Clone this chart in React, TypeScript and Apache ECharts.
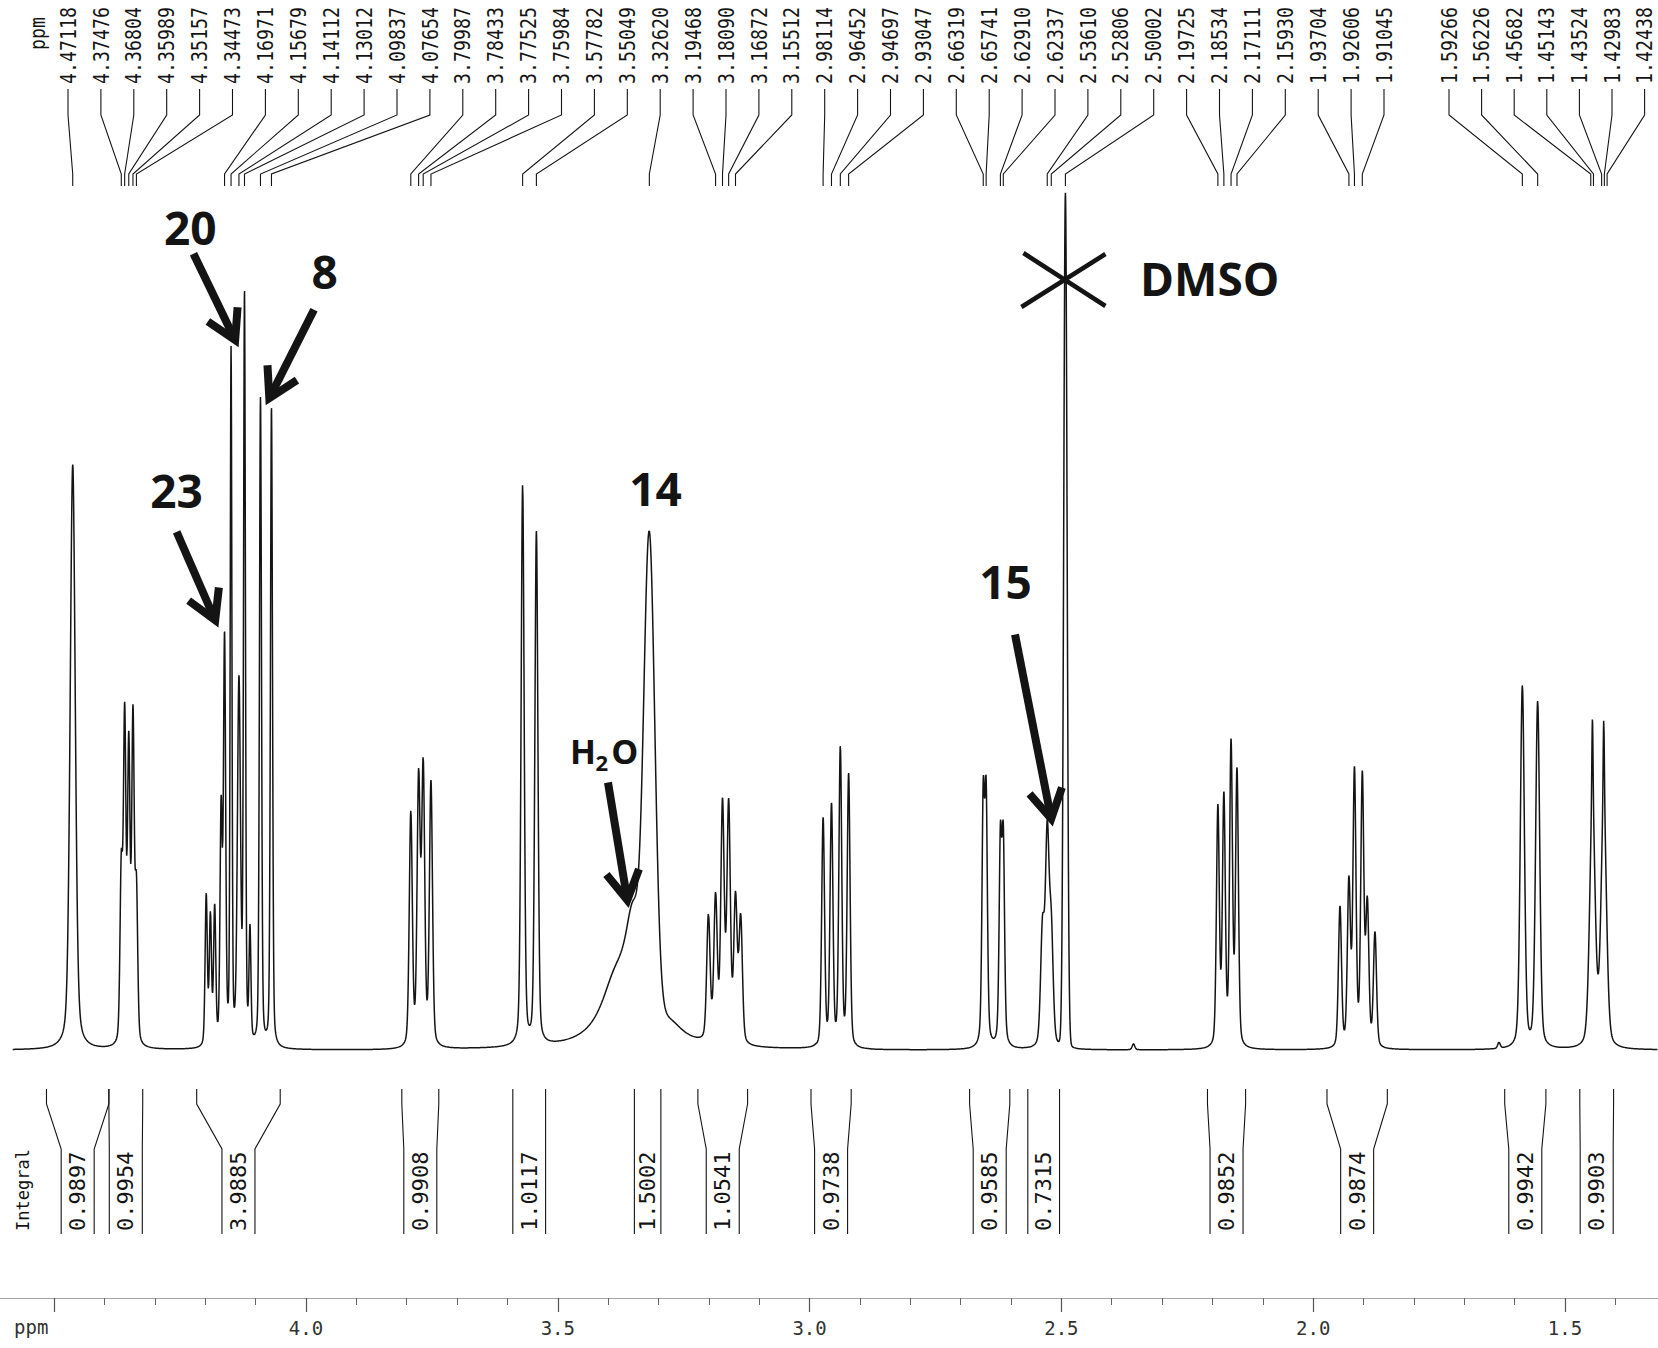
import React, { useEffect, useRef } from "react";
import * as echarts from "echarts";

// ---------------- data ----------------
// peak lists: [ppm, height, half-width at half-height (ppm), lorentzian fraction]
const singlet447 = [[4.47118, 585, 0.006, 0.35]];
const multiplet436 = [
  [4.37476, 170, 0.003, 0.3], [4.36804, 320, 0.003, 0.3], [4.35989, 290, 0.003, 0.3],
  [4.35157, 320, 0.003, 0.3], [4.34473, 150, 0.003, 0.3],
];
const multiplet413 = [
  [4.2061, 150, 0.0026, 0.3], [4.1978, 128, 0.0026, 0.3], [4.1893, 135, 0.0026, 0.3],
  [4.1765, 230, 0.0026, 0.3], [4.16971, 400, 0.0026, 0.3], [4.15679, 690, 0.002, 0.3],
  [4.14112, 360, 0.0036, 0.3], [4.13012, 745, 0.0022, 0.3], [4.1192, 110, 0.0022, 0.3],
  [4.09837, 648, 0.0024, 0.3], [4.07654, 640, 0.0024, 0.3],
];
const multiplet378 = [
  [3.79987, 233, 0.0036, 0.3], [3.78433, 263, 0.0036, 0.3],
  [3.77525, 274, 0.0036, 0.3], [3.75984, 263, 0.0036, 0.3],
];
const doublet356 = [[3.57782, 560, 0.0036, 0.3], [3.55049, 512, 0.0036, 0.3]];
const peak14Water = [
  [3.3262, 470, 0.0129, 0.05], [3.3586, 110, 0.0199, 1], [3.3944, 55, 0.0357, 1], [3.2853, 16, 0.034, 1],
];
const multiplet318 = [
  [3.2089, 124, 0.004, 0.3], [3.19468, 142, 0.004, 0.3], [3.1809, 235, 0.004, 0.3],
  [3.16872, 235, 0.004, 0.3], [3.15512, 142, 0.004, 0.3], [3.1448, 124, 0.004, 0.3],
];
const multiplet295 = [
  [2.98114, 228, 0.0034, 0.3], [2.96452, 240, 0.0034, 0.3],
  [2.94697, 298, 0.0034, 0.3], [2.93047, 272, 0.0034, 0.3],
];
const multiplet264 = [
  [2.66319, 239, 0.003, 0.4], [2.65741, 239, 0.003, 0.4],
  [2.6291, 199, 0.003, 0.4], [2.62337, 199, 0.003, 0.4],
];
const multiplet253 = [[2.5455, 115, 0.0044, 0.3], [2.5361, 205, 0.0044, 0.3], [2.52806, 110, 0.0044, 0.3]];
const dmsoPeak = [[2.50002, 855, 0.004, 0.03]];
const multiplet218 = [
  [2.19725, 238, 0.0034, 0.3], [2.18534, 247, 0.0034, 0.3],
  [2.17111, 300, 0.0034, 0.3], [2.1593, 274, 0.0034, 0.3],
];
const multiplet192 = [
  [1.9548, 140, 0.0036, 0.3], [1.93704, 163, 0.0036, 0.3], [1.92606, 273, 0.0036, 0.3],
  [1.91045, 268, 0.0036, 0.3], [1.9005, 140, 0.0036, 0.3], [1.8853, 114, 0.0036, 0.3],
];
const doublet158 = [[1.59266, 362, 0.0048, 0.3], [1.56226, 346, 0.0048, 0.3]];
const multiplet144 = [
  [1.4535, 240, 0.0064, 0.3], [1.4535, 85, 0.0014, 0.3],
  [1.431, 240, 0.0064, 0.3], [1.431, 85, 0.0014, 0.3],
];
const baselineBumps = [[2.3648, 6, 0.003, 0.3], [1.6391, 6, 0.003, 0.3]];

// peak-picking labels printed on top
const peakLabelPpm = [
  4.47118, 4.37476, 4.36804, 4.35989, 4.35157, 4.34473, 4.16971, 4.15679, 4.14112, 4.13012,
  4.09837, 4.07654, 3.79987, 3.78433, 3.77525, 3.75984, 3.57782, 3.55049, 3.3262, 3.19468,
  3.1809, 3.16872, 3.15512, 2.98114, 2.96452, 2.94697, 2.93047, 2.66319, 2.65741, 2.6291,
  2.62337, 2.5361, 2.52806, 2.50002, 2.19725, 2.18534, 2.17111, 2.1593, 1.93704, 1.92606,
  1.91045, 1.59266, 1.56226, 1.45682, 1.45143, 1.43524, 1.42983, 1.42438,
];

// integral regions
const integralStart = [4.5233, 4.3994, 4.225, 3.8177, 3.5973, 3.3559, 3.2298, 3.0052, 2.6903, 2.5747, 2.2179, 1.9806, 1.6277, 1.4786];
const integralEnd = [4.3994, 4.3322, 4.0592, 3.7443, 3.5322, 3.3033, 3.1311, 2.9254, 2.6104, 2.5117, 2.1422, 1.8608, 1.5459, 1.4115];
const integralValues = [0.9897, 0.9954, 3.9885, 0.9908, 1.0117, 1.5002, 1.0541, 0.9738, 0.9585, 0.7315, 0.9852, 0.9874, 0.9942, 0.9903];

// ruler ticks
const rulerLabels = [4.0, 3.5, 3.0, 2.5, 2.0, 1.5];
const rulerMajorTicks = [4.5, 4.0, 3.5, 3.0, 2.5, 2.0, 1.5];
const rulerMinorTicks = [
  4.4, 4.3, 4.2, 4.1, 3.9, 3.8, 3.7, 3.6, 3.4, 3.3, 3.2, 3.1, 2.9, 2.8, 2.7, 2.6,
  2.4, 2.3, 2.2, 2.1, 1.9, 1.8, 1.7, 1.6, 1.4,
];

// hand annotations (data coordinates: ppm, intensity)
const annotationTexts = ["20", "8", "23", "14", "15", "DMSO"];
const annotationTextAt = [[4.2377, 822.7], [3.971, 779.3], [4.2649, 560.4], [3.3138, 562.5], [2.6188, 469.5], [2.2135, 772]];
const arrowTails = [[4.2314, 796.2], [3.9921, 740.2], [4.2649, 518.1], [3.4083, 267.5], [2.6001, 415.5]];
const arrowTips = [[4.1452, 706.3], [4.0844, 648.2], [4.1851, 426.1], [3.3686, 146], [2.5266, 227.3]];
const waterLabelAt = [3.4125, 299];
const solventCrossAt = [2.5, 770];

// ---------------- layout / style ----------------
const W = 1658;
const H = 1348;
const SPEC_MIN = 1.3233;
const SPEC_MAX = 4.6156;
const SPEC_START = 4.5904;
const RULER_MIN = 1.3153;
const RULER_MAX = 4.6076;
const INK = "#141414";
const MONO = '"DejaVu Sans Mono", "Liberation Mono", monospace';
const BOLD = '"Open Sans", "Noto Sans", "DejaVu Sans", sans-serif';

const LABEL_X0 = 68;
const LABEL_STEP = 32.9;
const LABEL_BLOCK2 = 41;
const LABEL_X0_BLOCK2 = 1449;
const LABEL_STEP_BLOCK2 = 32.6;
const LABEL_FONT = 22;
const LABEL_SQUEEZE = 0.83;
const LABEL_TEXT_BOTTOM = 84;
const LEADER_TOP = 89;
const LEADER_BEND1 = 115;
const LEADER_BEND2 = 174;
const LEADER_BOTTOM = 186;

const INT_TOP = 1089;
const INT_BEND1 = 1104;
const INT_BEND2 = 1149;
const INT_BOTTOM = 1234;
const INT_MIN_W = 33;

function labelX(i: number) {
  return i < LABEL_BLOCK2
    ? LABEL_X0 + LABEL_STEP * i
    : LABEL_X0_BLOCK2 + LABEL_STEP_BLOCK2 * (i - LABEL_BLOCK2);
}

function shape(d: number, w: number, eta: number) {
  const r = (d / w) * (d / w);
  return (1 - eta) * Math.exp(-Math.LN2 * r) + eta / (1 + r);
}

function buildSpectrum() {
  const peaks = [
    ...singlet447, ...multiplet436, ...multiplet413, ...multiplet378, ...doublet356, ...peak14Water,
    ...multiplet318, ...multiplet295, ...multiplet264, ...multiplet253, ...dmsoPeak, ...multiplet218,
    ...multiplet192, ...doublet158, ...multiplet144, ...baselineBumps,
  ];
  const out: number[][] = [];
  const step = 0.0004;
  for (let p = SPEC_START; p >= SPEC_MIN; p -= step) {
    let v = 0;
    for (const [c, h, w, eta] of peaks) {
      const d = p - c;
      if (Math.abs(d) < 0.4) v += h * shape(d, w, eta);
    }
    out.push([p, v]);
  }
  return out;
}

function arrowChildren(t: number[], h: number[]) {
  const dx = t[0] - h[0];
  const dy = t[1] - h[1];
  const len = Math.hypot(dx, dy);
  const ux = dx / len;
  const uy = dy / len;
  const L = 33;
  const a = Math.PI / 6;
  const tip = [h[0] + ux * 4, h[1] + uy * 4];
  const arm = (ang: number) => [
    tip[0] + L * (ux * Math.cos(ang) - uy * Math.sin(ang)),
    tip[1] + L * (ux * Math.sin(ang) + uy * Math.cos(ang)),
  ];
  return [
    { type: "line", shape: { x1: t[0], y1: t[1], x2: tip[0], y2: tip[1] }, style: { stroke: INK, lineWidth: 8 } },
    {
      type: "polyline",
      shape: { points: [arm(a), tip, arm(-a)] },
      style: { stroke: INK, lineWidth: 8, lineJoin: "miter", fill: "none" },
    },
  ];
}

export default function App() {
  const ref = useRef<HTMLDivElement>(null);

  useEffect(() => {
    if (!ref.current) return;
    const chart = echarts.init(ref.current, undefined, { renderer: "svg", width: W, height: H });
    const spectrum = buildSpectrum();

    const option: any = {
      animation: false,
      backgroundColor: "#ffffff",
      grid: [
        { left: 0, right: 0, top: 0, bottom: 0 },
        { left: 0, right: 0, top: 1280, height: 18 },
      ],
      xAxis: [
        { type: "value", gridIndex: 0, min: SPEC_MIN, max: SPEC_MAX, inverse: true, show: false },
        {
          type: "value", gridIndex: 1, min: RULER_MIN, max: RULER_MAX, inverse: true, position: "bottom",
          axisLine: { show: true, lineStyle: { color: "#a0a0a0", width: 1.2, type: [3, 1] } },
          axisTick: { show: true, customValues: rulerMajorTicks, length: 14, lineStyle: { color: "#555", width: 1.2 } },
          axisLabel: {
            show: true, customValues: rulerLabels, formatter: (v: number) => v.toFixed(1),
            margin: 20, color: "#333", fontFamily: MONO, fontSize: 19,
          },
          splitLine: { show: false },
        },
        {
          type: "value", gridIndex: 1, min: RULER_MIN, max: RULER_MAX, inverse: true, position: "bottom",
          axisLine: { show: false },
          axisTick: { show: true, customValues: rulerMinorTicks, length: 7, lineStyle: { color: "#666", width: 1 } },
          axisLabel: { show: false },
          splitLine: { show: false },
        },
      ],
      yAxis: [
        { type: "value", gridIndex: 0, min: -298, max: 1050, show: false },
        { type: "value", gridIndex: 1, min: 0, max: 1, show: false },
      ],
      series: [
        {
          type: "line", xAxisIndex: 0, yAxisIndex: 0, data: spectrum, showSymbol: false, symbol: "none",
          lineStyle: { color: INK, width: 1.5 }, silent: true,
        },
        {
          type: "custom", xAxisIndex: 0, yAxisIndex: 0, silent: true,
          data: peakLabelPpm.map((p, i) => [p, i]),
          renderItem: (params: any, api: any) => {
            const i = params.dataIndex;
            const ppm = peakLabelPpm[i];
            const px = api.coord([ppm, 0])[0];
            const lx = labelX(i);
            return {
              type: "group",
              children: [
                {
                  type: "text", x: lx, y: LABEL_TEXT_BOTTOM, rotation: Math.PI / 2, scaleX: LABEL_SQUEEZE,
                  style: { text: ppm.toFixed(5), fill: INK, fontFamily: MONO, fontSize: LABEL_FONT, align: "left", verticalAlign: "middle" },
                },
                {
                  type: "polyline",
                  shape: { points: [[lx, LEADER_TOP], [lx, LEADER_BEND1], [px, LEADER_BEND2], [px, LEADER_BOTTOM]] },
                  style: { stroke: INK, lineWidth: 1.1, fill: "none" },
                },
              ],
            };
          },
        },
        {
          type: "custom", xAxisIndex: 0, yAxisIndex: 0, silent: true,
          data: integralValues.map((v, i) => [integralStart[i], integralEnd[i], v]),
          renderItem: (params: any, api: any) => {
            const x1 = api.coord([api.value(0), 0])[0];
            const x2 = api.coord([api.value(1), 0])[0];
            const c = (x1 + x2) / 2;
            const bw = Math.min(x2 - x1, INT_MIN_W);
            const b1 = c - bw / 2;
            const b2 = c + bw / 2;
            return {
              type: "group",
              children: [
                {
                  type: "polyline",
                  shape: { points: [[x1, INT_TOP], [x1, INT_BEND1], [b1, INT_BEND2], [b1, INT_BOTTOM]] },
                  style: { stroke: INK, lineWidth: 1.1, fill: "none" },
                },
                {
                  type: "polyline",
                  shape: { points: [[x2, INT_TOP], [x2, INT_BEND1], [b2, INT_BEND2], [b2, INT_BOTTOM]] },
                  style: { stroke: INK, lineWidth: 1.1, fill: "none" },
                },
                {
                  type: "text", x: c, y: INT_BOTTOM - 3, rotation: Math.PI / 2,
                  style: {
                    text: Number(api.value(2)).toFixed(4), fill: INK, fontFamily: MONO, fontSize: 22,
                    align: "left", verticalAlign: "middle",
                  },
                },
              ],
            };
          },
        },
        {
          type: "custom", xAxisIndex: 0, yAxisIndex: 0, silent: true,
          data: [[solventCrossAt[0], solventCrossAt[1]]],
          renderItem: (params: any, api: any) => {
            const children: any[] = [];
            annotationTexts.forEach((t, i) => {
              const [x, y] = api.coord(annotationTextAt[i]);
              children.push({
                type: "text", x, y,
                style: { text: t, fill: INK, fontFamily: BOLD, fontWeight: "bold", fontSize: 46, align: "center", verticalAlign: "middle" },
              });
            });
            arrowTails.forEach((t, i) => {
              children.push(...arrowChildren(api.coord(t), api.coord(arrowTips[i])));
            });
            const [wx, wy] = api.coord(waterLabelAt);
            children.push(
              { type: "text", x: wx - 23, y: wy, style: { text: "H", fill: INK, fontFamily: BOLD, fontWeight: "bold", fontSize: 34, align: "center", verticalAlign: "middle" } },
              { type: "text", x: wx - 4, y: wy + 11, style: { text: "2", fill: INK, fontFamily: BOLD, fontWeight: "bold", fontSize: 22, align: "center", verticalAlign: "middle" } },
              { type: "text", x: wx + 19, y: wy, style: { text: "O", fill: INK, fontFamily: BOLD, fontWeight: "bold", fontSize: 34, align: "center", verticalAlign: "middle" } },
            );
            const [cx, cy] = api.coord(solventCrossAt);
            children.push(
              { type: "line", shape: { x1: cx - 42, y1: cy - 27, x2: cx + 40, y2: cy + 26 }, style: { stroke: INK, lineWidth: 4.5 } },
              { type: "line", shape: { x1: cx - 44, y1: cy + 27, x2: cx + 40, y2: cy - 26 }, style: { stroke: INK, lineWidth: 4.5 } },
            );
            return { type: "group", children };
          },
        },
      ],
      graphic: [
        {
          type: "text", x: 37, y: 50, rotation: Math.PI / 2, scaleX: LABEL_SQUEEZE,
          style: { text: "ppm", fill: INK, fontFamily: MONO, fontSize: LABEL_FONT, align: "left", verticalAlign: "middle" },
        },
        {
          type: "text", x: 23, y: INT_BOTTOM - 3, rotation: Math.PI / 2,
          style: { text: "Integral", fill: INK, fontFamily: MONO, fontSize: 17, align: "left", verticalAlign: "middle" },
        },
        {
          type: "text", x: 14, y: 1327,
          style: { text: "ppm", fill: "#333", fontFamily: MONO, fontSize: 19, align: "left", verticalAlign: "middle" },
        },
      ],
    };

    chart.setOption(option);
    return () => chart.dispose();
  }, []);

  return (
    <div
      ref={ref}
      style={{ position: "absolute", left: 0, top: 0, width: W, height: H, background: "#fff" }}
    />
  );
}
